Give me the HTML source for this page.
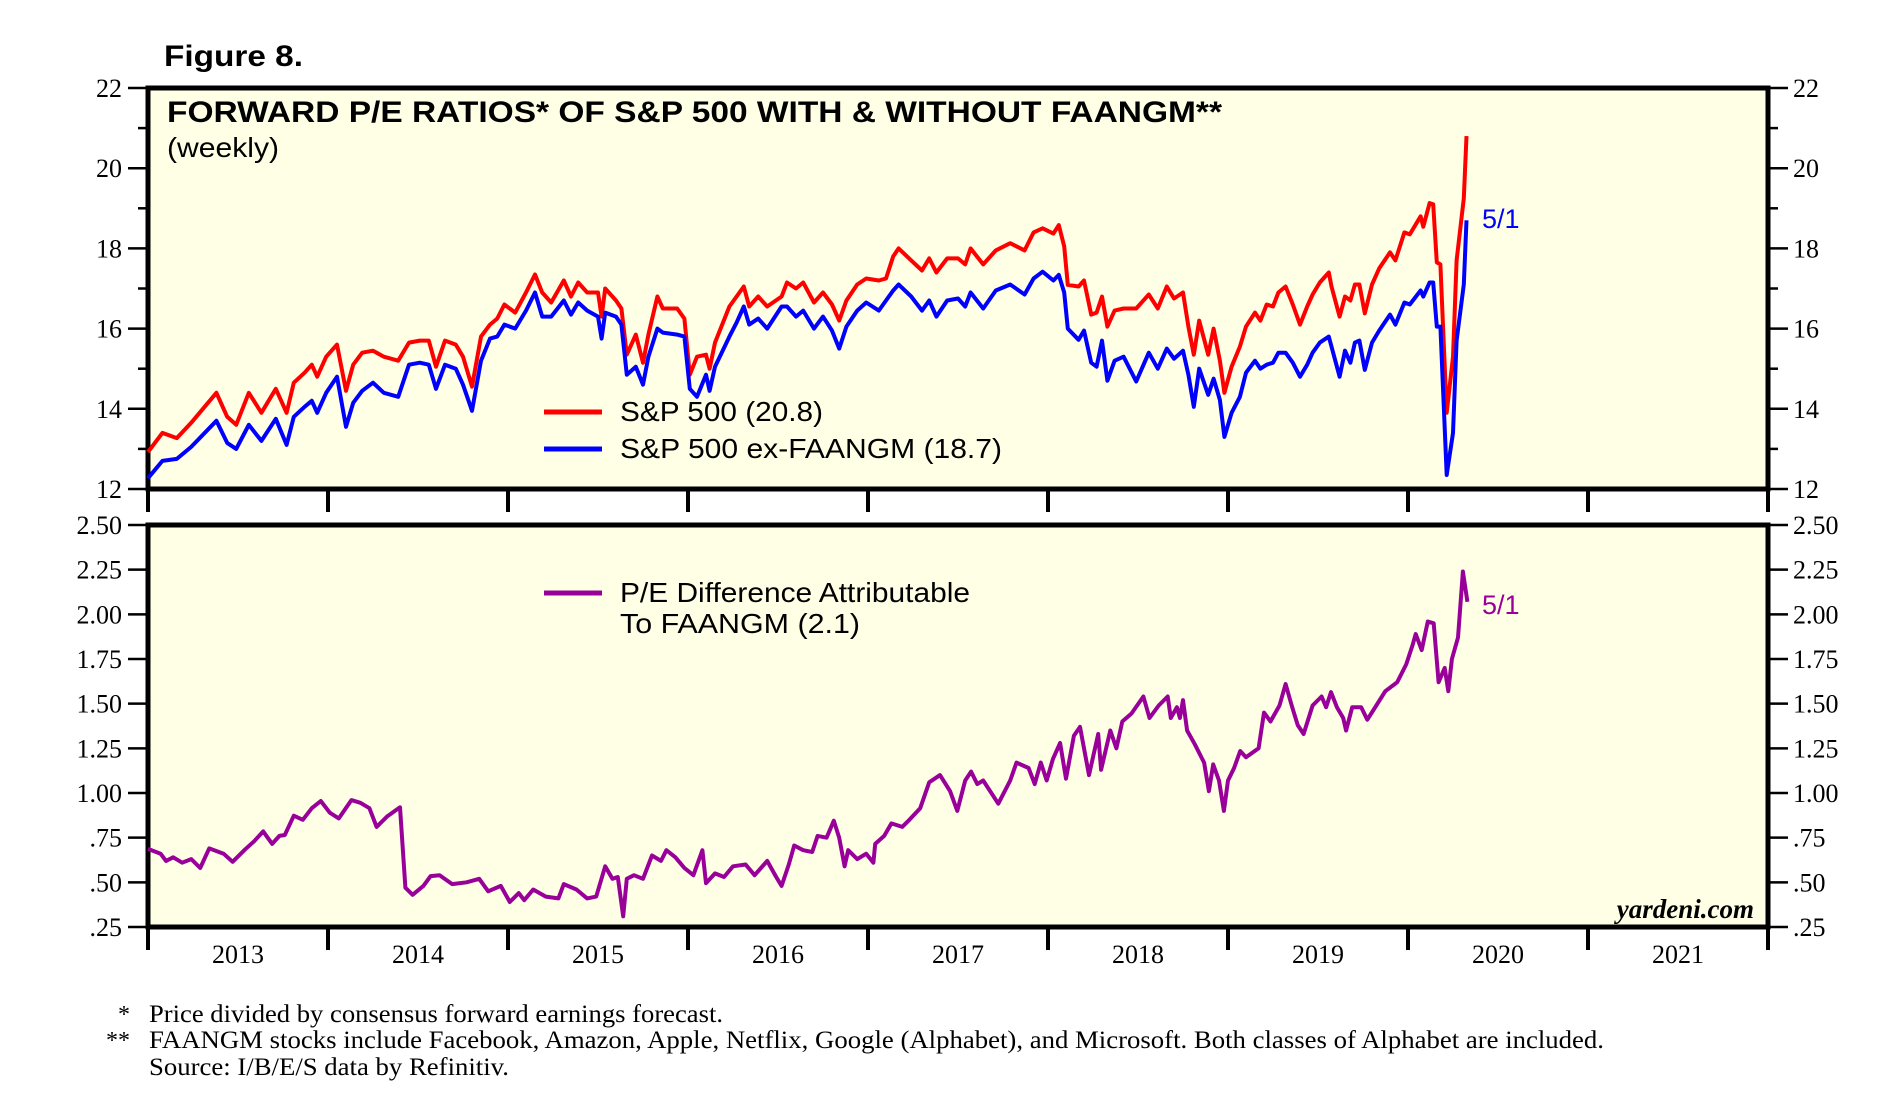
<!DOCTYPE html>
<html><head><meta charset="utf-8"><style>
html,body{margin:0;padding:0;background:#fff;}
svg{display:block;}
</style></head><body>
<svg id="chart" xmlns="http://www.w3.org/2000/svg" width="1898" height="1115" viewBox="0 0 1898 1115"></svg>
<script>
const peDates = [2013.00,2013.08,2013.16,2013.24,2013.38,2013.44,2013.49,2013.56,2013.63,2013.71,2013.77,2013.81,2013.87,2013.91,2013.94,2013.99,2014.05,2014.10,2014.14,2014.19,2014.25,2014.31,2014.39,2014.45,2014.51,2014.56,2014.60,2014.65,2014.71,2014.75,2014.80,2014.85,2014.90,2014.94,2014.98,2015.04,2015.10,2015.15,2015.19,2015.24,2015.31,2015.35,2015.39,2015.44,2015.50,2015.52,2015.54,2015.60,2015.63,2015.66,2015.71,2015.75,2015.78,2015.83,2015.86,2015.94,2015.98,2016.01,2016.05,2016.10,2016.12,2016.15,2016.23,2016.27,2016.31,2016.34,2016.39,2016.44,2016.52,2016.55,2016.60,2016.64,2016.70,2016.75,2016.80,2016.84,2016.88,2016.94,2016.99,2017.06,2017.10,2017.14,2017.17,2017.24,2017.30,2017.34,2017.38,2017.44,2017.50,2017.54,2017.57,2017.64,2017.71,2017.79,2017.87,2017.92,2017.97,2018.03,2018.06,2018.09,2018.11,2018.17,2018.20,2018.24,2018.27,2018.30,2018.33,2018.37,2018.42,2018.49,2018.56,2018.61,2018.66,2018.70,2018.75,2018.78,2018.81,2018.84,2018.89,2018.92,2018.955,2018.98,2019.02,2019.066,2019.10,2019.15,2019.18,2019.215,2019.25,2019.28,2019.32,2019.36,2019.40,2019.44,2019.47,2019.51,2019.56,2019.575,2019.62,2019.65,2019.68,2019.705,2019.73,2019.76,2019.80,2019.84,2019.90,2019.93,2019.98,2020.01,2020.07,2020.085,2020.12,2020.14,2020.16,2020.18,2020.215,2020.25,2020.27,2020.31,2020.325];
const spValues = [12.92,13.4,13.27,13.65,14.4,13.8,13.6,14.4,13.9,14.5,13.9,14.65,14.9,15.1,14.8,15.3,15.6,14.45,15.1,15.4,15.45,15.3,15.2,15.65,15.7,15.7,15.05,15.7,15.6,15.3,14.55,15.8,16.1,16.25,16.6,16.4,16.9,17.35,16.9,16.65,17.2,16.8,17.15,16.9,16.9,16.3,17.0,16.7,16.5,15.35,15.85,15.15,15.85,16.8,16.5,16.5,16.25,14.85,15.3,15.35,15.0,15.65,16.55,16.8,17.05,16.55,16.8,16.55,16.8,17.15,17.0,17.15,16.65,16.9,16.6,16.2,16.7,17.1,17.25,17.2,17.25,17.8,18.0,17.7,17.45,17.75,17.4,17.75,17.75,17.6,18.0,17.6,17.95,18.13,17.95,18.4,18.5,18.37,18.58,18.05,17.09,17.05,17.2,16.35,16.4,16.8,16.05,16.45,16.5,16.5,16.85,16.5,17.05,16.75,16.9,16.05,15.35,16.2,15.35,16.0,15.2,14.4,15.05,15.55,16.05,16.4,16.2,16.6,16.55,16.9,17.05,16.6,16.1,16.55,16.85,17.15,17.4,17.05,16.3,16.8,16.7,17.1,17.1,16.38,17.1,17.5,17.9,17.7,18.4,18.35,18.8,18.54,19.13,19.1,17.65,17.6,13.9,15.3,17.7,19.25,20.8];
const exValues = [12.27,12.7,12.75,13.05,13.7,13.15,13.0,13.6,13.2,13.75,13.1,13.8,14.05,14.2,13.9,14.4,14.8,13.55,14.15,14.45,14.65,14.4,14.3,15.1,15.15,15.1,14.5,15.1,15.0,14.6,13.95,15.2,15.75,15.8,16.1,16.0,16.45,16.9,16.3,16.3,16.7,16.35,16.65,16.45,16.3,15.75,16.4,16.3,16.1,14.85,15.05,14.6,15.3,16.0,15.9,15.85,15.8,14.5,14.3,14.85,14.45,15.05,15.8,16.15,16.55,16.1,16.25,16.0,16.55,16.55,16.3,16.45,16.0,16.3,15.95,15.5,16.05,16.45,16.65,16.45,16.7,16.95,17.1,16.8,16.45,16.7,16.3,16.7,16.75,16.55,16.9,16.5,16.95,17.1,16.85,17.25,17.42,17.2,17.34,16.9,16.0,15.72,15.95,15.15,15.05,15.7,14.7,15.2,15.3,14.68,15.4,15.0,15.5,15.25,15.45,14.85,14.05,15.0,14.35,14.75,14.22,13.3,13.9,14.3,14.9,15.2,15.0,15.1,15.15,15.4,15.4,15.15,14.8,15.1,15.4,15.65,15.8,15.55,14.8,15.45,15.15,15.65,15.7,14.97,15.65,15.95,16.35,16.1,16.65,16.6,16.95,16.8,17.15,17.15,16.05,16.05,12.35,13.4,15.7,17.1,18.7];
const diffDates = [2013.00,2013.07,2013.10,2013.14,2013.19,2013.24,2013.29,2013.34,2013.42,2013.47,2013.54,2013.59,2013.64,2013.69,2013.73,2013.76,2013.81,2013.86,2013.91,2013.96,2014.01,2014.06,2014.13,2014.18,2014.23,2014.27,2014.33,2014.40,2014.43,2014.47,2014.53,2014.57,2014.62,2014.69,2014.77,2014.84,2014.89,2014.96,2015.01,2015.06,2015.09,2015.14,2015.21,2015.28,2015.31,2015.38,2015.44,2015.49,2015.54,2015.58,2015.61,2015.64,2015.66,2015.70,2015.75,2015.80,2015.85,2015.88,2015.93,2015.98,2016.03,2016.08,2016.10,2016.15,2016.20,2016.25,2016.32,2016.37,2016.44,2016.49,2016.52,2016.56,2016.59,2016.64,2016.69,2016.72,2016.77,2016.81,2016.84,2016.87,2016.89,2016.94,2016.99,2017.03,2017.04,2017.09,2017.13,2017.19,2017.23,2017.29,2017.34,2017.40,2017.456,2017.496,2017.54,2017.573,2017.607,2017.64,2017.724,2017.79,2017.825,2017.892,2017.926,2017.96,2017.993,2018.027,2018.067,2018.10,2018.144,2018.178,2018.228,2018.279,2018.295,2018.346,2018.38,2018.413,2018.464,2018.53,2018.564,2018.615,2018.665,2018.682,2018.716,2018.733,2018.75,2018.773,2018.817,2018.867,2018.894,2018.918,2018.95,2018.977,2019.00,2019.034,2019.068,2019.10,2019.17,2019.20,2019.236,2019.286,2019.32,2019.354,2019.387,2019.42,2019.47,2019.52,2019.545,2019.572,2019.605,2019.64,2019.656,2019.69,2019.74,2019.774,2019.824,2019.874,2019.94,2019.99,2020.026,2020.043,2020.076,2020.11,2020.143,2020.17,2020.204,2020.224,2020.244,2020.278,2020.305,2020.33];
const diffValues = [0.687,0.66,0.62,0.64,0.61,0.63,0.58,0.69,0.66,0.615,0.685,0.73,0.785,0.715,0.76,0.765,0.873,0.85,0.915,0.955,0.89,0.858,0.96,0.945,0.915,0.81,0.87,0.92,0.47,0.43,0.48,0.535,0.54,0.49,0.5,0.52,0.45,0.48,0.39,0.44,0.40,0.46,0.42,0.41,0.49,0.46,0.41,0.42,0.59,0.52,0.53,0.31,0.52,0.54,0.52,0.65,0.62,0.68,0.64,0.58,0.54,0.68,0.495,0.55,0.53,0.59,0.60,0.54,0.62,0.53,0.48,0.60,0.706,0.68,0.67,0.76,0.75,0.845,0.75,0.59,0.68,0.63,0.66,0.61,0.715,0.76,0.83,0.81,0.85,0.915,1.06,1.1,1.01,0.9,1.07,1.12,1.05,1.07,0.94,1.07,1.17,1.14,1.05,1.17,1.07,1.19,1.28,1.08,1.32,1.37,1.1,1.33,1.13,1.35,1.25,1.4,1.445,1.54,1.42,1.49,1.54,1.42,1.48,1.42,1.52,1.35,1.27,1.17,1.01,1.16,1.07,0.9,1.07,1.14,1.235,1.2,1.25,1.45,1.4,1.49,1.61,1.49,1.38,1.33,1.49,1.54,1.48,1.565,1.48,1.42,1.35,1.48,1.48,1.41,1.49,1.57,1.62,1.72,1.83,1.89,1.8,1.96,1.95,1.62,1.7,1.57,1.75,1.87,2.24,2.07];
const yearLabels = ["2013","2014","2015","2016","2017","2018","2019","2020","2021"];
const topTicks = [12,13,14,15,16,17,18,19,20,21,22];
const botTicks = [0.25,0.5,0.75,1.0,1.25,1.5,1.75,2.0,2.25,2.5];
const botTickLabels = [".25",".50",".75","1.00","1.25","1.50","1.75","2.00","2.25","2.50"];

const NS="http://www.w3.org/2000/svg";
const svg=document.getElementById('chart');
const L=148,R=1768,T1=88,B1=489,T2=525,B2=927;
const x=v=>L+(v-2013)/9*(R-L);
const y1=v=>B1-(v-12)/10*(B1-T1);
const y2=v=>B2-(v-0.25)/2.25*(B2-T2);
function mk(tag,attrs,parent){const e=document.createElementNS(NS,tag);for(const k in attrs)e.setAttribute(k,attrs[k]);(parent||svg).appendChild(e);return e;}
function txt(s,attrs){const e=mk('text',attrs);e.textContent=s;return e;}

const p1=mk('rect',{x:L,y:T1,width:R-L,height:B1-T1,fill:'#ffffe6',stroke:'#000','stroke-width':5});


const p2=mk('rect',{x:L,y:T2,width:R-L,height:B2-T2,fill:'#ffffe6',stroke:'#000','stroke-width':5});



topTicks.forEach(v=>{
  const major=v%2===0;const yy=y1(v);
  const a=mk('line',{x1:major?128:138,x2:L,y1:yy,y2:yy,stroke:'#000','stroke-width':2.5});
  
  
  const b=mk('line',{x1:R,x2:major?1788:1778,y1:yy,y2:yy,stroke:'#000','stroke-width':2.5});
  
  
  if(major){
    const t1=txt(String(v),{x:122,y:yy+9,'text-anchor':'end','font-family':'Liberation Serif, serif','font-size':26});
    
    
    const t2=txt(String(v),{x:1793,y:yy+9,'font-family':'Liberation Serif, serif','font-size':26});
    
    
  }
});
botTicks.forEach((v,i)=>{
  const yy=y2(v);
  const a=mk('line',{x1:128,x2:L,y1:yy,y2:yy,stroke:'#000','stroke-width':2.5});
  
  
  const b=mk('line',{x1:R,x2:1788,y1:yy,y2:yy,stroke:'#000','stroke-width':2.5});
  
  
  const t1=txt(botTickLabels[i],{x:122,y:yy+9,'text-anchor':'end','font-family':'Liberation Serif, serif','font-size':26});
  
  
  const t2=txt(botTickLabels[i],{x:1793,y:yy+9,'font-family':'Liberation Serif, serif','font-size':26});
  
  
});
for(let i=0;i<=yearLabels.length;i++){
  const xx=x(2013+i);
  const a=mk('line',{x1:xx,x2:xx,y1:B1,y2:512,stroke:'#000','stroke-width':4});
  
  
  const b=mk('line',{x1:xx,x2:xx,y1:B2,y2:950,stroke:'#000','stroke-width':4});
  
  
}
yearLabels.forEach((s,i)=>{
  const t=txt(s,{x:x(2013.5+i),y:963,'text-anchor':'middle','font-family':'Liberation Serif, serif','font-size':26});
  
  
});

function line(dates,vals,yf,color,name){
  const pts=dates.map((d,i)=>x(d).toFixed(1)+','+yf(vals[i]).toFixed(1)).join(' ');
  const p=mk('polyline',{points:pts,fill:'none',stroke:color,'stroke-width':4,'stroke-linejoin':'round'});
  
  
}
line(peDates,spValues,y1,'#ff0000','sp500-line');
line(peDates,exValues,y1,'#0000ff','sp500-ex-faangm-line');
line(diffDates,diffValues,y2,'#990099','pe-difference-line');
</script>
<svg style="position:absolute;left:0;top:0" width="1898" height="1115">
<text x="164" y="66" font-family="Liberation Sans, sans-serif" font-weight="bold" font-size="30" textLength="139" lengthAdjust="spacingAndGlyphs">Figure 8.</text>
<text x="167" y="122" font-family="Liberation Sans, sans-serif" font-weight="bold" font-size="30" textLength="1055" lengthAdjust="spacingAndGlyphs">FORWARD P/E RATIOS* OF S&amp;P 500 WITH &amp; WITHOUT FAANGM**</text>
<text x="167" y="157" font-family="Liberation Sans, sans-serif" font-size="28" textLength="112" lengthAdjust="spacingAndGlyphs">(weekly)</text>
<line x1="544" y1="412" x2="602" y2="412" stroke="#ff0000" stroke-width="5"/>
<text x="620" y="421" font-family="Liberation Sans, sans-serif" font-size="28" textLength="203" lengthAdjust="spacingAndGlyphs">S&amp;P 500 (20.8)</text>
<line x1="544" y1="449" x2="602" y2="449" stroke="#0000ff" stroke-width="5"/>
<text x="620" y="458" font-family="Liberation Sans, sans-serif" font-size="28" textLength="382" lengthAdjust="spacingAndGlyphs">S&amp;P 500 ex-FAANGM (18.7)</text>
<text x="1482" y="228" font-family="Liberation Sans, sans-serif" font-size="27" fill="#0000ff">5/1</text>
<line x1="544" y1="593" x2="602" y2="593" stroke="#990099" stroke-width="5"/>
<text x="620" y="602" font-family="Liberation Sans, sans-serif" font-size="28" textLength="350" lengthAdjust="spacingAndGlyphs">P/E Difference Attributable</text>
<text x="620" y="633" font-family="Liberation Sans, sans-serif" font-size="28" textLength="240" lengthAdjust="spacingAndGlyphs">To FAANGM (2.1)</text>
<text x="1482" y="614" font-family="Liberation Sans, sans-serif" font-size="27" fill="#990099">5/1</text>
<text x="1754" y="918" text-anchor="end" font-family="Liberation Serif, serif" font-style="italic" font-weight="bold" font-size="27">yardeni.com</text>
<text x="124" y="1022" text-anchor="middle" font-family="Liberation Serif, serif" font-size="24">*</text>
<text x="149" y="1022" font-family="Liberation Serif, serif" font-size="25" textLength="574" lengthAdjust="spacingAndGlyphs">Price divided by consensus forward earnings forecast.</text>
<text x="118" y="1048" text-anchor="middle" font-family="Liberation Serif, serif" font-size="24">**</text>
<text x="149" y="1048" font-family="Liberation Serif, serif" font-size="25" textLength="1455" lengthAdjust="spacingAndGlyphs">FAANGM stocks include Facebook, Amazon, Apple, Netflix, Google (Alphabet), and Microsoft. Both classes of Alphabet are included.</text>
<text x="149" y="1075" font-family="Liberation Serif, serif" font-size="25" textLength="360" lengthAdjust="spacingAndGlyphs">Source: I/B/E/S data by Refinitiv.</text>
</svg>
</body></html>
